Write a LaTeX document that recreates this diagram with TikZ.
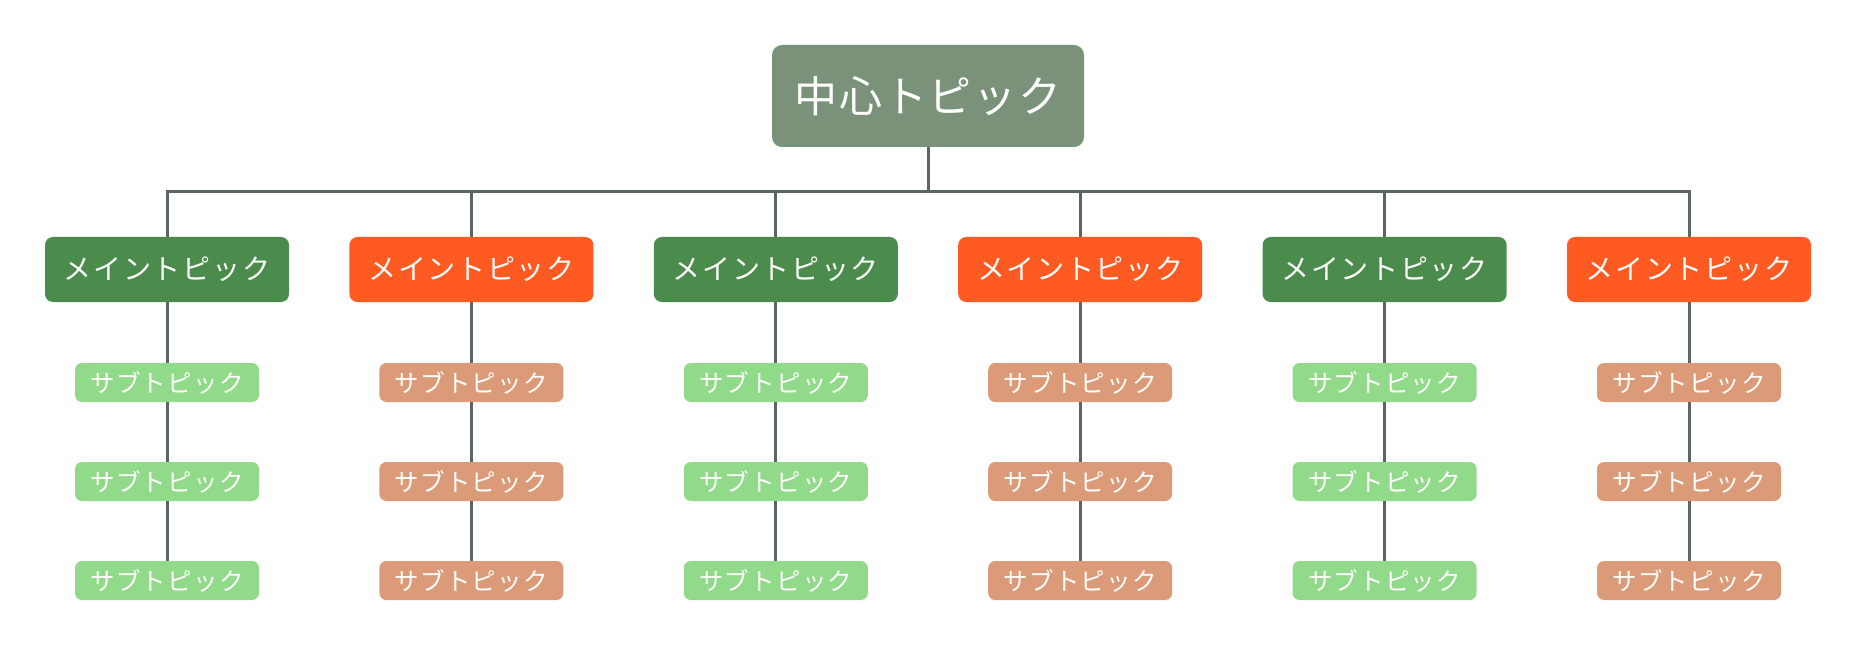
\documentclass[tikz,border=0pt]{standalone}
\usepackage{fontspec}
\newfontfamily\jpfont[LetterSpace=6]{Noto Sans CJK JP}
\newfontfamily\jpsmall[LetterSpace=5]{Noto Sans CJK JP}
\newfontfamily\jpbig[LetterSpace=4]{Noto Sans CJK JP}
\definecolor{centerfill}{HTML}{7A917A}
\definecolor{maingreen}{HTML}{4B8B4B}
\definecolor{mainorange}{HTML}{FF5A22}
\definecolor{subgreen}{HTML}{91DA89}
\definecolor{suborange}{HTML}{DC9B78}
\definecolor{linkgray}{HTML}{5B6662}
\begin{document}
\begin{tikzpicture}[
        x=1pt, y=-1pt, % 1 pixel = 1pt, y downward
        link/.style = {draw=linkgray, line width=3pt},
        center/.style = {rounded corners=10pt, fill=centerfill, text=white, inner sep=0pt,
                minimum width=312pt, minimum height=102pt, font=\jpbig\fontsize{43}{43}\selectfont},
        topic/.style = {rounded corners=8pt, text=white, inner sep=0pt,
                minimum width=244pt, minimum height=65pt, font=\jpfont\fontsize{28}{28}\selectfont}, % main topics
        subtopic/.style = {rounded corners=7pt, text=white, inner sep=0pt,
                minimum width=184pt, minimum height=39pt, font=\jpsmall\fontsize{24.5}{24.5}\selectfont},
    ]
    \useasboundingbox (0,0) rectangle (1857,660);

    \node[center] (ctr) at (928,96) {中心トピック};
    \coordinate (bus) at (928,192);
    \draw[link] (ctr.south) -- (bus);

    % main topics with three subtopics each
    \foreach \i/\mc/\sc in {0/maingreen/subgreen, 1/mainorange/suborange, 2/maingreen/subgreen,
            3/mainorange/suborange, 4/maingreen/subgreen, 5/mainorange/suborange} {
        \node[topic, fill=\mc] (m\i) at ({167+304.4*\i},269.5) {メイントピック};
        \node[subtopic, fill=\sc] (s\i a) at ({167+304.4*\i},382.5) {サブトピック};
        \node[subtopic, fill=\sc] (s\i b) at ({167+304.4*\i},481.5) {サブトピック};
        \node[subtopic, fill=\sc] (s\i c) at ({167+304.4*\i},580.5) {サブトピック};
        \draw[link] (bus) -| (m\i.north);
        \draw[link] (m\i.south) -- (s\i a.north);
        \draw[link] (s\i a.south) -- (s\i b.north);
        \draw[link] (s\i b.south) -- (s\i c.north);
    }
\end{tikzpicture}
\end{document}
